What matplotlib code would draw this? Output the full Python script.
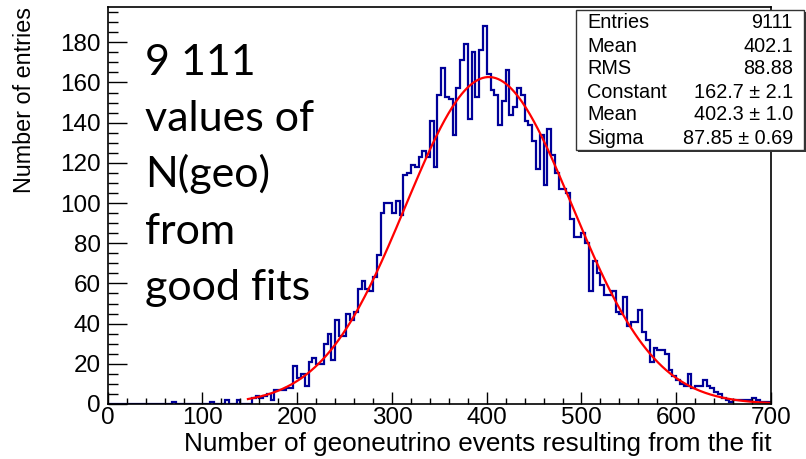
import numpy as np
import matplotlib
matplotlib.use("Agg")
import matplotlib.pyplot as plt
from matplotlib.ticker import MultipleLocator

plt.rcParams['font.family'] = ['Liberation Sans', 'DejaVu Sans']

# histogram: 175 bins of width 4 from 0 to 700
bin_edges = np.arange(0, 704, 4)
counts = [
    0, 0, 0, 0, 0, 0, 0, 0, 0, 0, 0, 0, 0, 0, 0, 0, 0, 1, 0, 0,      # 0-76
    0, 0, 0, 0, 0, 0, 0, 1, 0, 0, 0, 2, 0, 0, 2, 0, 0, 0, 3, 4,      # 80-156
    3, 4, 5, 2, 7, 7, 7, 8, 8, 19, 13, 15, 9, 21, 23, 20, 20, 30, 35, 22,   # 160-236
    42, 34, 34, 45, 42, 46, 57, 61, 57, 56, 63, 74, 95, 100, 100, 95, 101, 94, 114, 115,  # 240-316
    119, 118, 123, 126, 123, 141, 118, 154, 167, 153, 152, 134, 157, 171, 179, 142, 175, 153, 176, 188,  # 320-396
    164, 156, 154, 139, 151, 166, 144, 148, 157, 154, 141, 139, 131, 117, 134, 109, 137, 124, 115, 107,  # 400-476
    107, 105, 92, 83, 83, 85, 80, 56, 71, 65, 59, 54, 54, 56, 46, 45, 53, 39, 41, 41,  # 480-556
    47, 36, 32, 21, 28, 27, 27, 25, 17, 14, 12, 10, 9, 15, 8, 9, 9, 12, 9, 8,  # 560-636
    6, 5, 3, 2, 1, 2, 2, 2, 2, 2, 3, 2, 1, 1, 1,  # 640-696
]

# gaussian fit parameters from the stats box
fit_const = 162.7
fit_mean = 402.3
fit_sigma = 87.85
fit_lo, fit_hi = 148, 700

stat_labels = ["Entries", "Mean", "RMS", "Constant", "Mean", "Sigma"]
stat_values = ["9111", "402.1", "88.88", "162.7 \u00b1 2.1", "402.3 \u00b1 1.0", "87.85 \u00b1 0.69"]
note_lines = ["9 111", "values of", "N(geo)", "from", "good fits"]

W, H = 806, 459
fig = plt.figure(figsize=(W / 100, H / 100), dpi=100)
ax = fig.add_axes([107.7 / W, (H - 404) / H, (771 - 107.7) / W, (404 - 7.3) / H])

ax.stairs(counts, bin_edges, color="#000099", linewidth=1.6, baseline=0)
xf = np.linspace(fit_lo, fit_hi, 400)
ax.plot(xf, fit_const * np.exp(-0.5 * ((xf - fit_mean) / fit_sigma) ** 2),
        color="red", linewidth=1.6)

ax.set_xlim(0, 700)
ax.set_ylim(0, 197.4)
ax.xaxis.set_major_locator(MultipleLocator(100))
ax.xaxis.set_minor_locator(MultipleLocator(20))
ax.yaxis.set_major_locator(MultipleLocator(20))
ax.yaxis.set_minor_locator(MultipleLocator(5))
ax.tick_params(axis="x", which="major", direction="in", length=8.6, width=1, labelsize=17.5, pad=2)
ax.tick_params(axis="x", which="minor", direction="in", length=4.3, width=1)
ax.tick_params(axis="y", which="major", direction="in", length=13.7, width=1, labelsize=17.5, pad=5)
ax.tick_params(axis="y", which="minor", direction="in", length=7, width=1)
for s in ax.spines.values():
    s.set_linewidth(1.2)

ax.set_xlabel("Number of geoneutrino events resulting from the fit", fontsize=18.8, loc="right")
ax.xaxis.set_label_coords(1.0, -28 / 396.7)
ax.set_ylabel("Number of entries", fontsize=16.8, loc="top")
ax.yaxis.set_label_coords(-72 / 663.3, 1.0)

for i, line in enumerate(note_lines):
    fig.text(145 / W, 1 - (75 + i * 56.2) / H, line, fontsize=31,
             family=["Lato", "DejaVu Sans"], va="baseline", ha="left")

# stats box
bx0, by0, bx1, by1 = 576, 10, 804, 150
fig.patches.append(plt.Rectangle((bx0 / W + 2 / W, 1 - by1 / H - 2 / H), (bx1 - bx0) / W, (by1 - by0) / H,
                                 transform=fig.transFigure, facecolor="#333333", edgecolor="none", zorder=5))
fig.patches.append(plt.Rectangle((bx0 / W, 1 - by1 / H), (bx1 - bx0) / W, (by1 - by0) / H,
                                 transform=fig.transFigure, facecolor="white", edgecolor="#333333",
                                 linewidth=1, zorder=6))
for i, (lab, val) in enumerate(zip(stat_labels, stat_values)):
    yy = 1 - (23 + i * 23) / H
    fig.text(587 / W, yy, lab, fontsize=14.3, va="center", ha="left", zorder=7)
    fig.text(793 / W, yy, val, fontsize=14.3, va="center", ha="right", zorder=7)

fig.savefig("out.png", dpi=100)
